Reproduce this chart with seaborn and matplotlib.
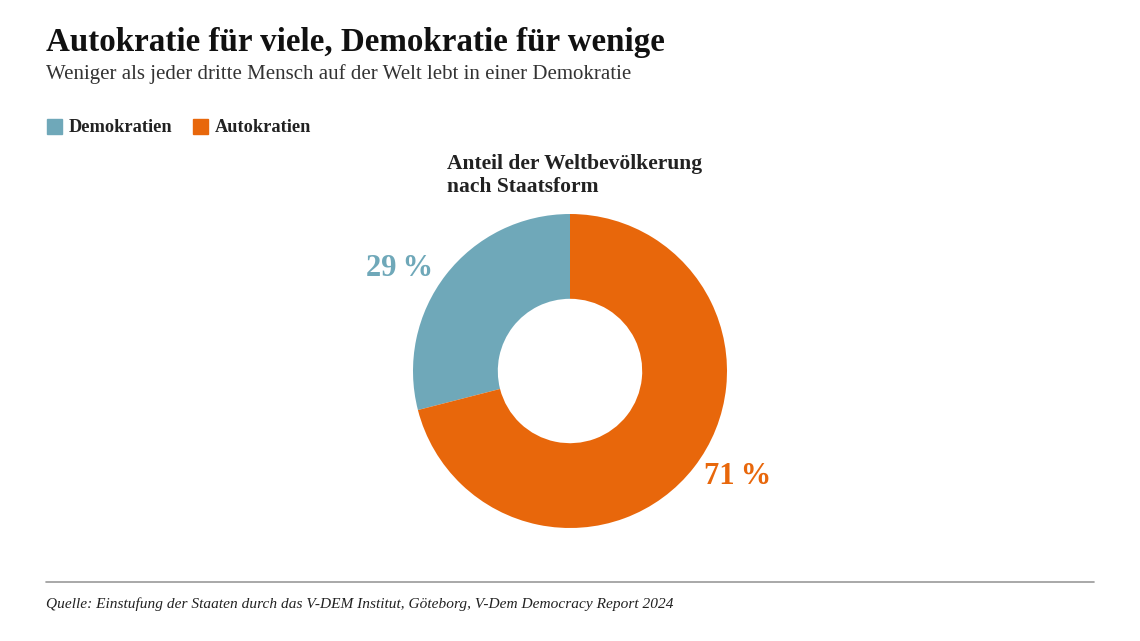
import matplotlib.pyplot as plt
import seaborn as sns

categories = ["Demokratien", "Autokratien"]
shares = [29, 71]
labels = ["29\u2009%", "71\u2009%"]
colors = ["#6fa8b9", "#e8670b"]

sns.set_theme(style="white")
plt.rcParams["font.family"] = ["Liberation Serif", "DejaVu Serif"]

W, H = 1140, 641
fig = plt.figure(figsize=(W / 100, H / 100), dpi=100)
fig.patch.set_facecolor("white")

# donut axes, square in pixels, centred at (570, 371)
cx, cy, r = 570, 371, 160
ax = fig.add_axes([(cx - r) / W, (H - cy - r) / H, 2 * r / W, 2 * r / H])
wedges, _ = ax.pie(shares, colors=colors, startangle=90, counterclock=True,
                   radius=157 / 160, wedgeprops=dict(width=0.53, edgecolor="none"))
ax.set_xlim(-1, 1)
ax.set_ylim(-1, 1)
ax.set_aspect("equal")
ax.axis("off")

# percentage labels
fig.text(400 / W, 1 - 268 / H, labels[0], color=colors[0], fontsize=22,
         fontweight="bold", ha="center", va="center")
fig.text(738 / W, 1 - 477 / H, labels[1], color=colors[1], fontsize=22,
         fontweight="bold", ha="center", va="center")

# titles
fig.text(46 / W, 1 - 43 / H, "Autokratie für viele, Demokratie für wenige",
         fontsize=23.8, fontweight="bold", color="#111111", va="center")
fig.text(46 / W, 1 - 74 / H, "Weniger als jeder dritte Mensch auf der Welt lebt in einer Demokratie",
         fontsize=15, color="#333333", va="center")

# legend
for i, (cat, col) in enumerate(zip(categories, colors)):
    x0 = [47, 193][i]
    fig.patches.append(plt.Rectangle((x0 / W, 1 - 134 / H), 15 / W, 15 / H,
                                     transform=fig.transFigure, color=col))
    fig.text((x0 + 22) / W, 1 - 127 / H, cat, fontsize=13.2, fontweight="bold",
             color="#222222", va="center")

fig.text(447 / W, 1 - 176 / H, "Anteil der Weltbevölkerung\nnach Staatsform",
         fontsize=15.5, fontweight="bold", color="#222222", va="center",
         linespacing=1.2)

# footer
fig.add_artist(plt.Line2D([46 / W, 1094 / W], [1 - 582 / H, 1 - 582 / H],
                          transform=fig.transFigure, color="#999999", linewidth=1.2))
fig.text(46 / W, 1 - 604 / H,
         "Quelle: Einstufung der Staaten durch das V-DEM Institut, Göteborg, V-Dem Democracy Report 2024",
         fontsize=11.1, style="italic", color="#222222", va="center")

fig.savefig("out.png", dpi=100, facecolor="white")
